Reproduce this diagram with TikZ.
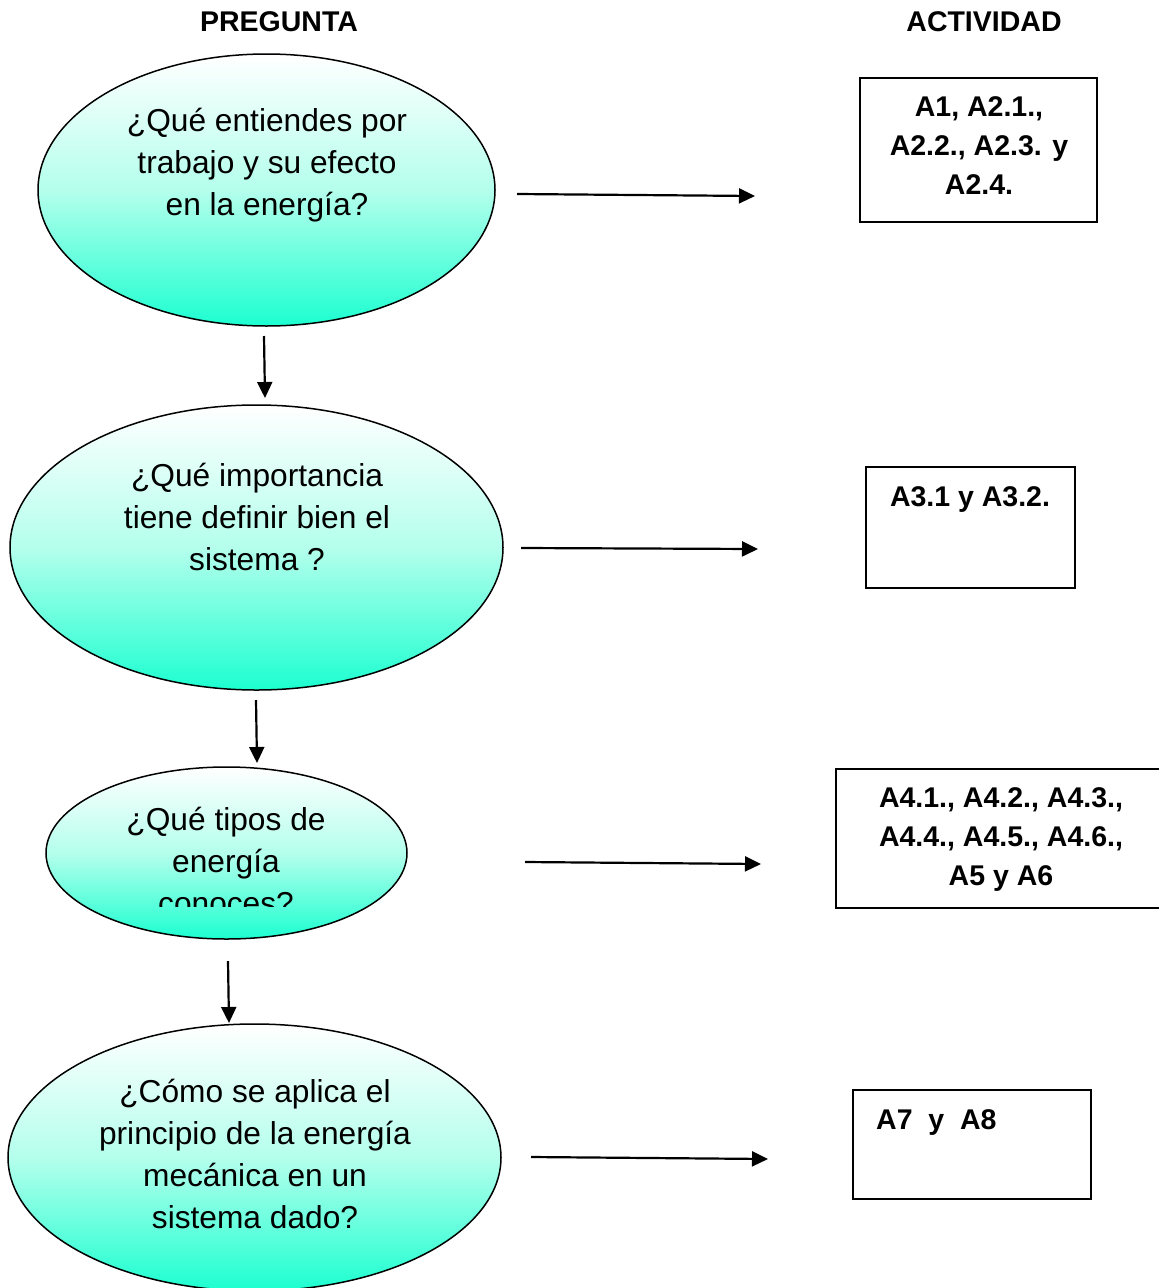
\documentclass[tikz,border=0pt]{standalone}
\usepackage{fontspec}
\setmainfont{Liberation Sans}
\usetikzlibrary{shapes.geometric,arrows.meta}
\definecolor{aqua}{HTML}{1CFFD0}
\definecolor{aqualight}{HTML}{B4FFEC}
\tikzset{
  question/.style={ellipse, draw=black, line width=1.5pt, inner sep=0pt,
    top color=white, bottom color=aqua, middle color=aqualight},
  qtext/.style={align=center, font=\fontsize{31.7}{42}\selectfont, inner sep=0pt},
  actbox/.style={draw=black, line width=1.5pt, fill=white, inner sep=0pt},
  acttext/.style={align=center, font=\fontsize{28.5}{39}\selectfont\bfseries, inner sep=0pt},
  header/.style={font=\fontsize{28.5}{34}\selectfont\bfseries, inner sep=0pt},
  link/.style={line width=2.2pt, -{Triangle[length=16pt,width=15pt]}}
}
\begin{document}
\begin{tikzpicture}[x=1pt,y=-1pt]
\useasboundingbox (0,0) rectangle (1159,1288);
\clip (0,0) rectangle (1159,1288);

% column headers
\node[header] (hq) at (279,22) {PREGUNTA};
\node[header] (ha) at (984,22) {ACTIVIDAD};

% questions
\node[question, minimum width=457, minimum height=272] (q1) at (266.5,190) {};
\node[qtext] (q1t) at (267,165) {¿Qué entiendes por\\trabajo y su efecto\\en la energía?};

\node[question, minimum width=493, minimum height=285] (q2) at (256.5,547.5) {};
\node[qtext] (q2t) at (257,517) {¿Qué importancia\\tiene definir bien el\\sistema ?};

\node[question, minimum width=361, minimum height=172] (q3) at (226.5,853) {};
\begin{scope}
  \clip (0,767) rectangle (1159,906);
  \node[qtext] (q3t) at (226,861) {¿Qué tipos de\\energía\\conoces?};
\end{scope}

\node[question, minimum width=493, minimum height=267] (q4) at (254.5,1157.5) {};
\node[qtext] (q4t) at (255,1154) {¿Cómo se aplica el\\principio de la energía\\mecánica en un\\sistema dado?};

% activities
\node[actbox, minimum width=237, minimum height=144] (b1) at (978.5,150) {};
\node[acttext] (b1t) at (979,146) {A1, A2.1.,\\A2.2., A2.3. y\\A2.4.};

\node[actbox, minimum width=209, minimum height=121] (b2) at (970.5,527.5) {};
\node[acttext] (b2t) at (970,499) {A3.1 y A3.2.};

\node[actbox, minimum width=330, minimum height=139] (b3) at (1001,838.5) {};
\node[acttext] (b3t) at (1001,839) {A4.1., A4.2., A4.3.,\\A4.4., A4.5., A4.6.,\\A5 y A6};

\node[actbox, minimum width=238, minimum height=109] (b4) at (972,1144.5) {};
\node[acttext, anchor=west] (b4t) at (876,1122) {A7\ \ y\ \ A8};

% arrow end points
\coordinate (r1s) at (517,194);  \coordinate (r1e) at (755,196);
\coordinate (r2s) at (521,548);  \coordinate (r2e) at (758,549);
\coordinate (r3s) at (525,862);  \coordinate (r3e) at (761,864);
\coordinate (r4s) at (531,1157); \coordinate (r4e) at (768,1159);
\coordinate (d1s) at (264,336);  \coordinate (d1e) at (265,398);
\coordinate (d2s) at (256,700);  \coordinate (d2e) at (257,763);
\coordinate (d3s) at (228,961);  \coordinate (d3e) at (229,1023);

% horizontal links
\draw[link] (r1s) -- (r1e);
\draw[link] (r2s) -- (r2e);
\draw[link] (r3s) -- (r3e);
\draw[link] (r4s) -- (r4e);

% vertical links
\draw[link] (d1s) -- (d1e);
\draw[link] (d2s) -- (d2e);
\draw[link] (d3s) -- (d3e);
\end{tikzpicture}
\end{document}
